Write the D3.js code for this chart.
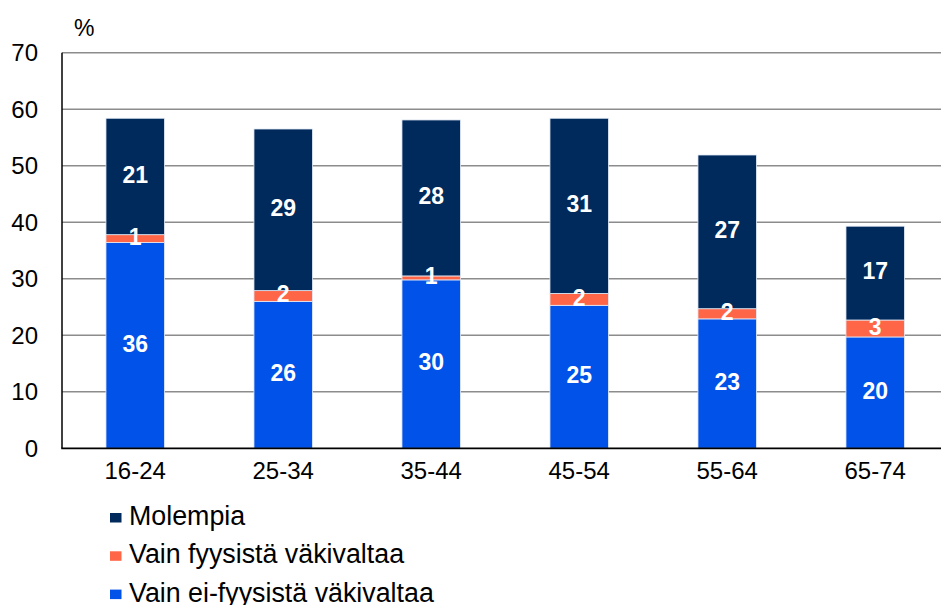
<!DOCTYPE html>
<html>
<head>
<meta charset="utf-8">
<script src="https://cdn.jsdelivr.net/npm/d3@7"></script>
<style>
  body { margin: 0; background: #fff; }
  svg { display: block; font-family: Arial, "Liberation Sans", sans-serif; }
</style>
</head>
<body>
<div id="chart"></div>
<script>
// age groups and the three stacked series (percent)
var ageGroups = ['16-24', '25-34', '35-44', '45-54', '55-64', '65-74'];
var nonPhysical = [36.4, 26.0, 29.8, 25.3, 22.9, 19.7]; // Vain ei-fyysistä väkivaltaa
var physical = [1.4, 1.9, 0.7, 2.1, 1.8, 3.0];          // Vain fyysistä väkivaltaa
var both = [20.6, 28.6, 27.6, 31.0, 27.2, 16.6];        // Molempia
var yTicks = [0, 10, 20, 30, 40, 50, 60, 70];
var seriesNames = ['Vain ei-fyysistä väkivaltaa', 'Vain fyysistä väkivaltaa', 'Molempia'];
var seriesColors = ['#0052e8', '#ff6648', '#002a5c'];

var width = 941, height = 605;
var plotLeft = 62, plotTop = 52.7, plotBottom = 448.3; // "top" is taken by window.top

var svg = d3.select('#chart').append('svg')
    .attr('width', width)
    .attr('height', height);

var x = d3.scaleBand()
    .domain(ageGroups)
    .range([plotLeft - 0.8, plotLeft - 0.8 + 148 * ageGroups.length])
    .paddingInner(0.605)
    .paddingOuter(0.3025);

var y = d3.scaleLinear().domain([0, 70]).range([plotBottom, plotTop]);

// gridlines
svg.append('g').selectAll('line')
    .data(yTicks.filter(function (d) { return d > 0; }))
    .enter().append('line')
    .attr('x1', plotLeft).attr('x2', width)
    .attr('y1', function (d) { return y(d); })
    .attr('y2', function (d) { return y(d); })
    .attr('stroke', '#8c8c8c')
    .attr('stroke-width', 1.4);

// y tick labels
svg.append('g').selectAll('text')
    .data(yTicks)
    .enter().append('text')
    .attr('x', 38)
    .attr('y', function (d) { return y(d); })
    .attr('dy', '0.35em')
    .attr('text-anchor', 'end')
    .attr('font-size', 24)
    .attr('fill', '#000')
    .text(function (d) { return d; });

svg.append('text')
    .attr('x', 74).attr('y', 36)
    .attr('font-size', 23)
    .text('%');

// stacked bars
var rows = ageGroups.map(function (g, i) {
    return { group: g, a: nonPhysical[i], b: physical[i], c: both[i] };
});
var stack = d3.stack().keys(['a', 'b', 'c'])(rows);

svg.append('g').selectAll('g')
    .data(stack)
    .enter().append('g')
    .attr('fill', function (d, i) { return seriesColors[i]; })
    .selectAll('rect')
    .data(function (d) { return d; })
    .enter().append('rect')
    .attr('x', function (d) { return x(d.data.group); })
    .attr('width', x.bandwidth())
    .attr('y', function (d) { return y(d[1]); })
    .attr('height', function (d) { return y(d[0]) - y(d[1]); })
    .attr('stroke', '#e4ebf6')
    .attr('stroke-width', 0.8);

// value labels, drawn after all rects so thin segments' labels stay on top
var segments = stack.reduce(function (acc, layer) { return acc.concat(layer); }, []);
svg.append('g').selectAll('text')
    .data(segments)
    .enter().append('text')
    .attr('x', function (d) { return x(d.data.group) + x.bandwidth() / 2; })
    .attr('y', function (d) { return (y(d[0]) + y(d[1])) / 2; })
    .attr('dy', '0.27em')
    .attr('text-anchor', 'middle')
    .attr('font-size', 23)
    .attr('font-weight', 'bold')
    .attr('fill', '#fff')
    .text(function (d) { return d3.format('.0f')(d[1] - d[0]); });

// axes lines
svg.append('line')
    .attr('x1', plotLeft).attr('x2', plotLeft)
    .attr('y1', plotTop).attr('y2', plotBottom)
    .attr('stroke', '#000').attr('stroke-width', 1.5);
svg.append('line')
    .attr('x1', plotLeft - 0.75).attr('x2', width)
    .attr('y1', plotBottom).attr('y2', plotBottom)
    .attr('stroke', '#000').attr('stroke-width', 1.8);

// x tick labels
svg.append('g').selectAll('text')
    .data(ageGroups)
    .enter().append('text')
    .attr('x', function (d) { return x(d) + x.bandwidth() / 2; })
    .attr('y', 479)
    .attr('text-anchor', 'middle')
    .attr('font-size', 24)
    .text(function (d) { return d; });

// legend (Molempia on top)
var legendOrder = [2, 1, 0];
var legend = svg.append('g').selectAll('g')
    .data(legendOrder)
    .enter().append('g')
    .attr('transform', function (d, i) { return 'translate(110,' + (525 + i * 38.3) + ')'; });
legend.append('rect')
    .attr('x', 0).attr('y', -12)
    .attr('width', 11.5).attr('height', 9.5)
    .attr('fill', function (d) { return seriesColors[d]; });
legend.append('text')
    .attr('x', 19).attr('y', 0)
    .attr('font-size', 26.8)
    .text(function (d) { return seriesNames[d]; });
</script>
</body>
</html>
